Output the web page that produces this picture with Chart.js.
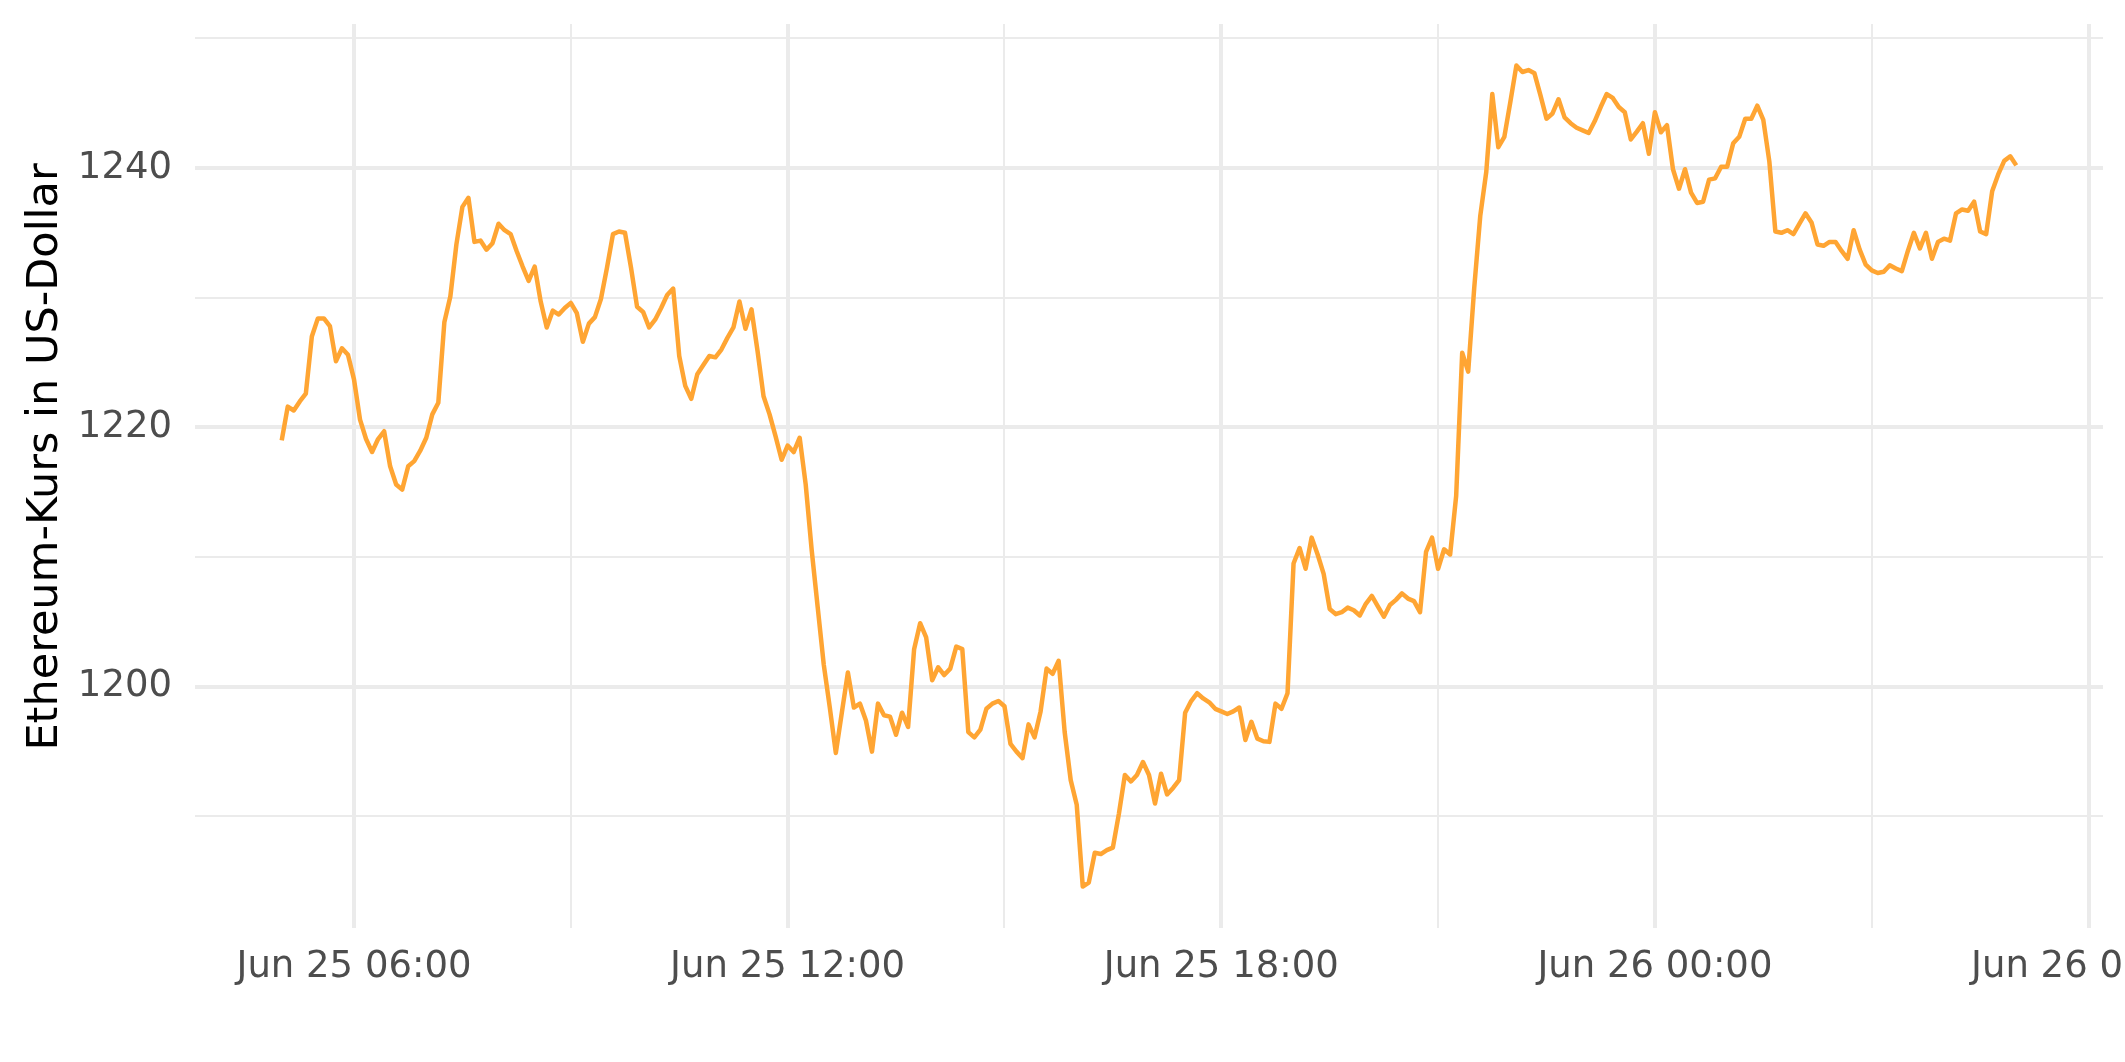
<!DOCTYPE html>
<html>
<head>
<meta charset="utf-8">
<script src="https://cdn.jsdelivr.net/npm/chart.js@4"></script>
<style>
    html, body { margin: 0; padding: 0; background: #fff; overflow: hidden; }
    #wrap { width: 2125px; height: 1062px; }
</style>
</head>
<body>
<div id="wrap"><canvas id="chart" width="2125" height="1062"></canvas></div>
<script>
// ============================================
// DATA
// ============================================

// 5-minute samples, Jun 25 05:00 to Jun 26 05:00 (hours counted from Jun 25 00:00)
const startHour = 5;
const stepMinutes = 5;

const ethPrice = [
    1219.0, 1221.6, 1221.3, 1222.0, 1222.6, 1227.0, 1228.4, 1228.4, 1227.8, 1225.1,
    1226.1, 1225.6, 1223.7, 1220.6, 1219.1, 1218.1, 1219.1, 1219.7, 1217.0, 1215.6,
    1215.2, 1217.0, 1217.4, 1218.2, 1219.2, 1221.0, 1221.9, 1228.1, 1230.1, 1234.1,
    1237.0, 1237.7, 1234.3, 1234.4, 1233.7, 1234.2, 1235.7, 1235.2, 1234.9, 1233.6,
    1232.4, 1231.3, 1232.4, 1229.7, 1227.7, 1229.0, 1228.7, 1229.2, 1229.6, 1228.8,
    1226.6, 1228.0, 1228.5, 1229.9, 1232.3, 1234.9, 1235.1, 1235.0, 1232.3, 1229.3,
    1228.9, 1227.7, 1228.3, 1229.2, 1230.2, 1230.7, 1225.5, 1223.2, 1222.2, 1224.1,
    1224.8, 1225.5, 1225.4, 1226.0, 1226.9, 1227.7, 1229.7, 1227.6, 1229.1, 1225.9,
    1222.4, 1221.0, 1219.3, 1217.5, 1218.6, 1218.1, 1219.2, 1215.6, 1210.5, 1206.1,
    1201.7, 1198.4, 1194.9, 1198.0, 1201.1, 1198.4, 1198.7, 1197.4, 1195.0, 1198.7,
    1197.8, 1197.7, 1196.3, 1198.0, 1196.9, 1202.9, 1204.9, 1203.8, 1200.5, 1201.5,
    1200.9, 1201.4, 1203.1, 1202.9, 1196.5, 1196.1, 1196.7, 1198.3, 1198.7, 1198.9,
    1198.5, 1195.6, 1195.0, 1194.5, 1197.1, 1196.1, 1198.1, 1201.4, 1201.0, 1202.0,
    1196.5, 1192.8, 1190.9, 1184.6, 1184.9, 1187.2, 1187.1, 1187.4, 1187.6, 1190.2,
    1193.2, 1192.7, 1193.2, 1194.2, 1193.2, 1191.0, 1193.3, 1191.7, 1192.2, 1192.8,
    1198.0, 1198.9, 1199.5, 1199.1, 1198.8, 1198.3, 1198.1, 1197.9, 1198.1, 1198.4,
    1195.9, 1197.3, 1196.0, 1195.8, 1195.75, 1198.7, 1198.3, 1199.5, 1209.5, 1210.7,
    1209.1, 1211.5, 1210.2, 1208.7, 1206.0, 1205.6, 1205.75, 1206.1, 1205.9, 1205.5,
    1206.4, 1207.0, 1206.2, 1205.4, 1206.3, 1206.7, 1207.2, 1206.8, 1206.6, 1205.75,
    1210.4, 1211.5, 1209.1, 1210.6, 1210.2, 1214.7, 1225.75, 1224.3, 1230.75, 1236.3,
    1239.7, 1245.7, 1241.6, 1242.4, 1245.1, 1247.9, 1247.4, 1247.55, 1247.3, 1245.6,
    1243.8, 1244.2, 1245.3, 1243.9, 1243.45, 1243.1, 1242.9, 1242.7, 1243.6, 1244.7,
    1245.7, 1245.4, 1244.7, 1244.3, 1242.2, 1242.8, 1243.45, 1241.1, 1244.3, 1242.75,
    1243.3, 1239.9, 1238.4, 1239.9, 1238.1, 1237.3, 1237.4, 1239.1, 1239.2, 1240.1,
    1240.1, 1241.9, 1242.4, 1243.8, 1243.8, 1244.8, 1243.7, 1240.5, 1235.1, 1235.0,
    1235.2, 1234.9, 1235.7, 1236.5, 1235.8, 1234.1, 1234.0, 1234.3, 1234.3, 1233.6,
    1233.0, 1235.2, 1233.7, 1232.55, 1232.1, 1231.9, 1232.0, 1232.5, 1232.25, 1232.05,
    1233.6, 1235.0, 1233.8, 1235.0, 1233.0, 1234.3, 1234.55, 1234.4, 1236.5, 1236.8,
    1236.7, 1237.4, 1235.1, 1234.9, 1238.2, 1239.5, 1240.55, 1240.9, 1240.2
];

// x axis (hours since Jun 25 00:00)
const xMin = 3.8;
const xMax = 30.2;
const xGridHours = [6, 9, 12, 15, 18, 21, 24, 27, 30];
const xTickHours = [6, 12, 18, 24, 30];
const xTickLabels = ['Jun 25 06:00', 'Jun 25 12:00', 'Jun 25 18:00', 'Jun 26 00:00', 'Jun 26 06:00'];

// y axis
const yMin = 1181.4;
const yMax = 1251.1;
const yGridValues = [1190, 1200, 1210, 1220, 1230, 1240, 1250];
const yTickValues = [1200, 1220, 1240];

const yTitle = 'Ethereum-Kurs in US-Dollar';

// ============================================
// CHART
// ============================================

const FONT = '"DejaVu Sans", Verdana, sans-serif';
const GRID = '#ebebeb';
const TICK_COLOR = '#4d4d4d';
const LINE_COLOR = '#ffa533';

const points = ethPrice.map((price, i) => ({
    x: startHour + (i * stepMinutes) / 60,
    y: price
}));

// y title drawn by hand so it can sit where the reference has it
const yTitlePlugin = {
    id: 'yTitle',
    afterDraw(chart) {
        const { ctx } = chart;
        ctx.save();
        ctx.translate(57, 457);
        ctx.rotate(-Math.PI / 2);
        ctx.font = `43px ${FONT}`;
        ctx.fillStyle = '#000';
        ctx.textAlign = 'center';
        ctx.textBaseline = 'alphabetic';
        ctx.fillText(yTitle, 0, 0);
        ctx.restore();
    }
};

new Chart(document.getElementById('chart').getContext('2d'), {
    type: 'line',

    data: {
        datasets: [
            {
                data: points,
                borderColor: LINE_COLOR,
                borderWidth: 4.5,
                borderJoinStyle: 'round',
                fill: false,
                tension: 0,
                pointRadius: 0
            }
        ]
    },

    options: {
        responsive: false,
        devicePixelRatio: 1,
        animation: false,

        layout: {
            padding: { top: 24, right: 22, bottom: 0, left: 0 }
        },

        plugins: {
            legend: { display: false },
            tooltip: { enabled: false }
        },

        scales: {
            x: {
                type: 'linear',
                min: xMin,
                max: xMax,

                afterBuildTicks(scale) {
                    scale.ticks = xGridHours.map(v => ({ value: v }));
                },

                afterFit(scale) {
                    scale.height = 134;
                    scale.paddingLeft = 0;
                    scale.paddingRight = 0;
                },

                grid: {
                    color: GRID,
                    drawTicks: false,
                    lineWidth(context) {
                        return context.tick && xTickHours.includes(context.tick.value) ? 4 : 2;
                    }
                },

                border: { display: false },

                ticks: {
                    autoSkip: false,
                    maxRotation: 0,
                    padding: 17,
                    color: TICK_COLOR,
                    font: { family: FONT, size: 37 },
                    callback(value) {
                        const idx = xTickHours.indexOf(value);
                        return idx >= 0 ? xTickLabels[idx] : '';
                    }
                }
            },

            y: {
                type: 'linear',
                min: yMin,
                max: yMax,

                afterBuildTicks(scale) {
                    scale.ticks = yGridValues.map(v => ({ value: v }));
                },

                afterFit(scale) {
                    scale.width = 195;
                    scale.paddingTop = 0;
                    scale.paddingBottom = 0;
                },

                grid: {
                    color: GRID,
                    drawTicks: false,
                    lineWidth(context) {
                        return context.tick && yTickValues.includes(context.tick.value) ? 4 : 2;
                    }
                },

                border: { display: false },

                ticks: {
                    padding: 23,
                    color: TICK_COLOR,
                    font: { family: FONT, size: 37 },
                    callback(value) {
                        return yTickValues.includes(value) ? String(value) : '';
                    }
                }
            }
        }
    },

    plugins: [yTitlePlugin]
});
</script>
</body>
</html>
